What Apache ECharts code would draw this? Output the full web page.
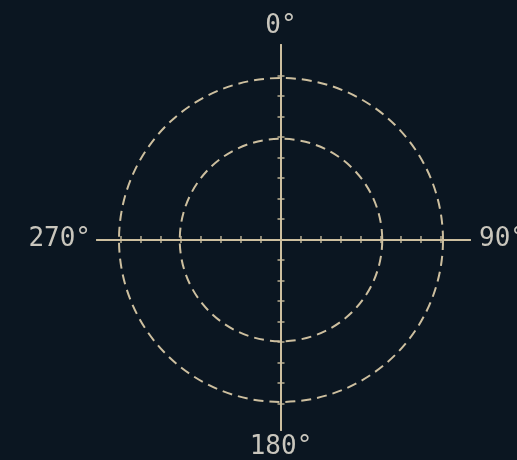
<!DOCTYPE html>
<html>
<head>
<meta charset="utf-8">
<script src="https://cdn.jsdelivr.net/npm/echarts@6/dist/echarts.min.js"></script>
<style>
html,body{margin:0;padding:0;background:#0b1621;}
#c{width:517px;height:460px;}
</style>
</head>
<body>
<div id="c"></div>
<script>
// data
const directionLabels = ['0°', '90°', '180°', '270°'];
const ringRadii = [5, 8];
const tickValues = [-8,-7,-6,-5,-4,-3,-2,-1,0,1,2,3,4,5,6,7,8];
const xExtent = [-9.2, 9.45];
const yExtent = [-9.3, 9.5];
const ringMax = 8;

const lineColor = '#cdbf9f';
const textColor = '#c9c6bd';
const font = 'DejaVu Sans Mono';
const nameStyle = { color: textColor, fontFamily: font, fontSize: 26 };

function axis(base) {
  return Object.assign({
    type: 'value',
    axisLine: { show: true, onZero: true, lineStyle: { color: lineColor, width: 2 } },
    axisTick: { show: true, customValues: tickValues, length: 3.5, lineStyle: { color: lineColor, width: 1.6, opacity: 0.85 } },
    axisLabel: { show: false },
    splitLine: { show: false },
    nameTextStyle: nameStyle
  }, base);
}

const chart = echarts.init(document.getElementById('c'), null, { renderer: 'canvas' });
chart.setOption({
  backgroundColor: '#0b1621',
  animation: false,
  grid: { left: 97, right: 47, top: 45, bottom: 30, containLabel: false, outerBoundsMode: 'none' },
  xAxis: [
    axis({ position: 'bottom', min: xExtent[0], max: xExtent[1], name: directionLabels[1], nameLocation: 'end', nameGap: 9 }),
    axis({ position: 'top', min: xExtent[0], max: xExtent[1], name: directionLabels[3], nameLocation: 'start', nameGap: 6 })
  ],
  yAxis: [
    axis({ position: 'left', min: yExtent[0], max: yExtent[1], name: directionLabels[0], nameLocation: 'end', nameGap: 6 }),
    axis({ position: 'right', min: yExtent[0], max: yExtent[1], name: directionLabels[2], nameLocation: 'start', nameGap: 4 })
  ],
  polar: { center: [281, 240], radius: 162 },
  angleAxis: { show: false, type: 'value', min: 0, max: 360 },
  radiusAxis: {
    type: 'value', min: 0, max: ringMax,
    axisLine: { show: false },
    axisLabel: { show: false },
    axisTick: { show: false, customValues: ringRadii },
    splitLine: { show: true, lineStyle: { color: lineColor, width: 2, type: [10, 6] } }
  },
  series: []
});
</script>
</body>
</html>
